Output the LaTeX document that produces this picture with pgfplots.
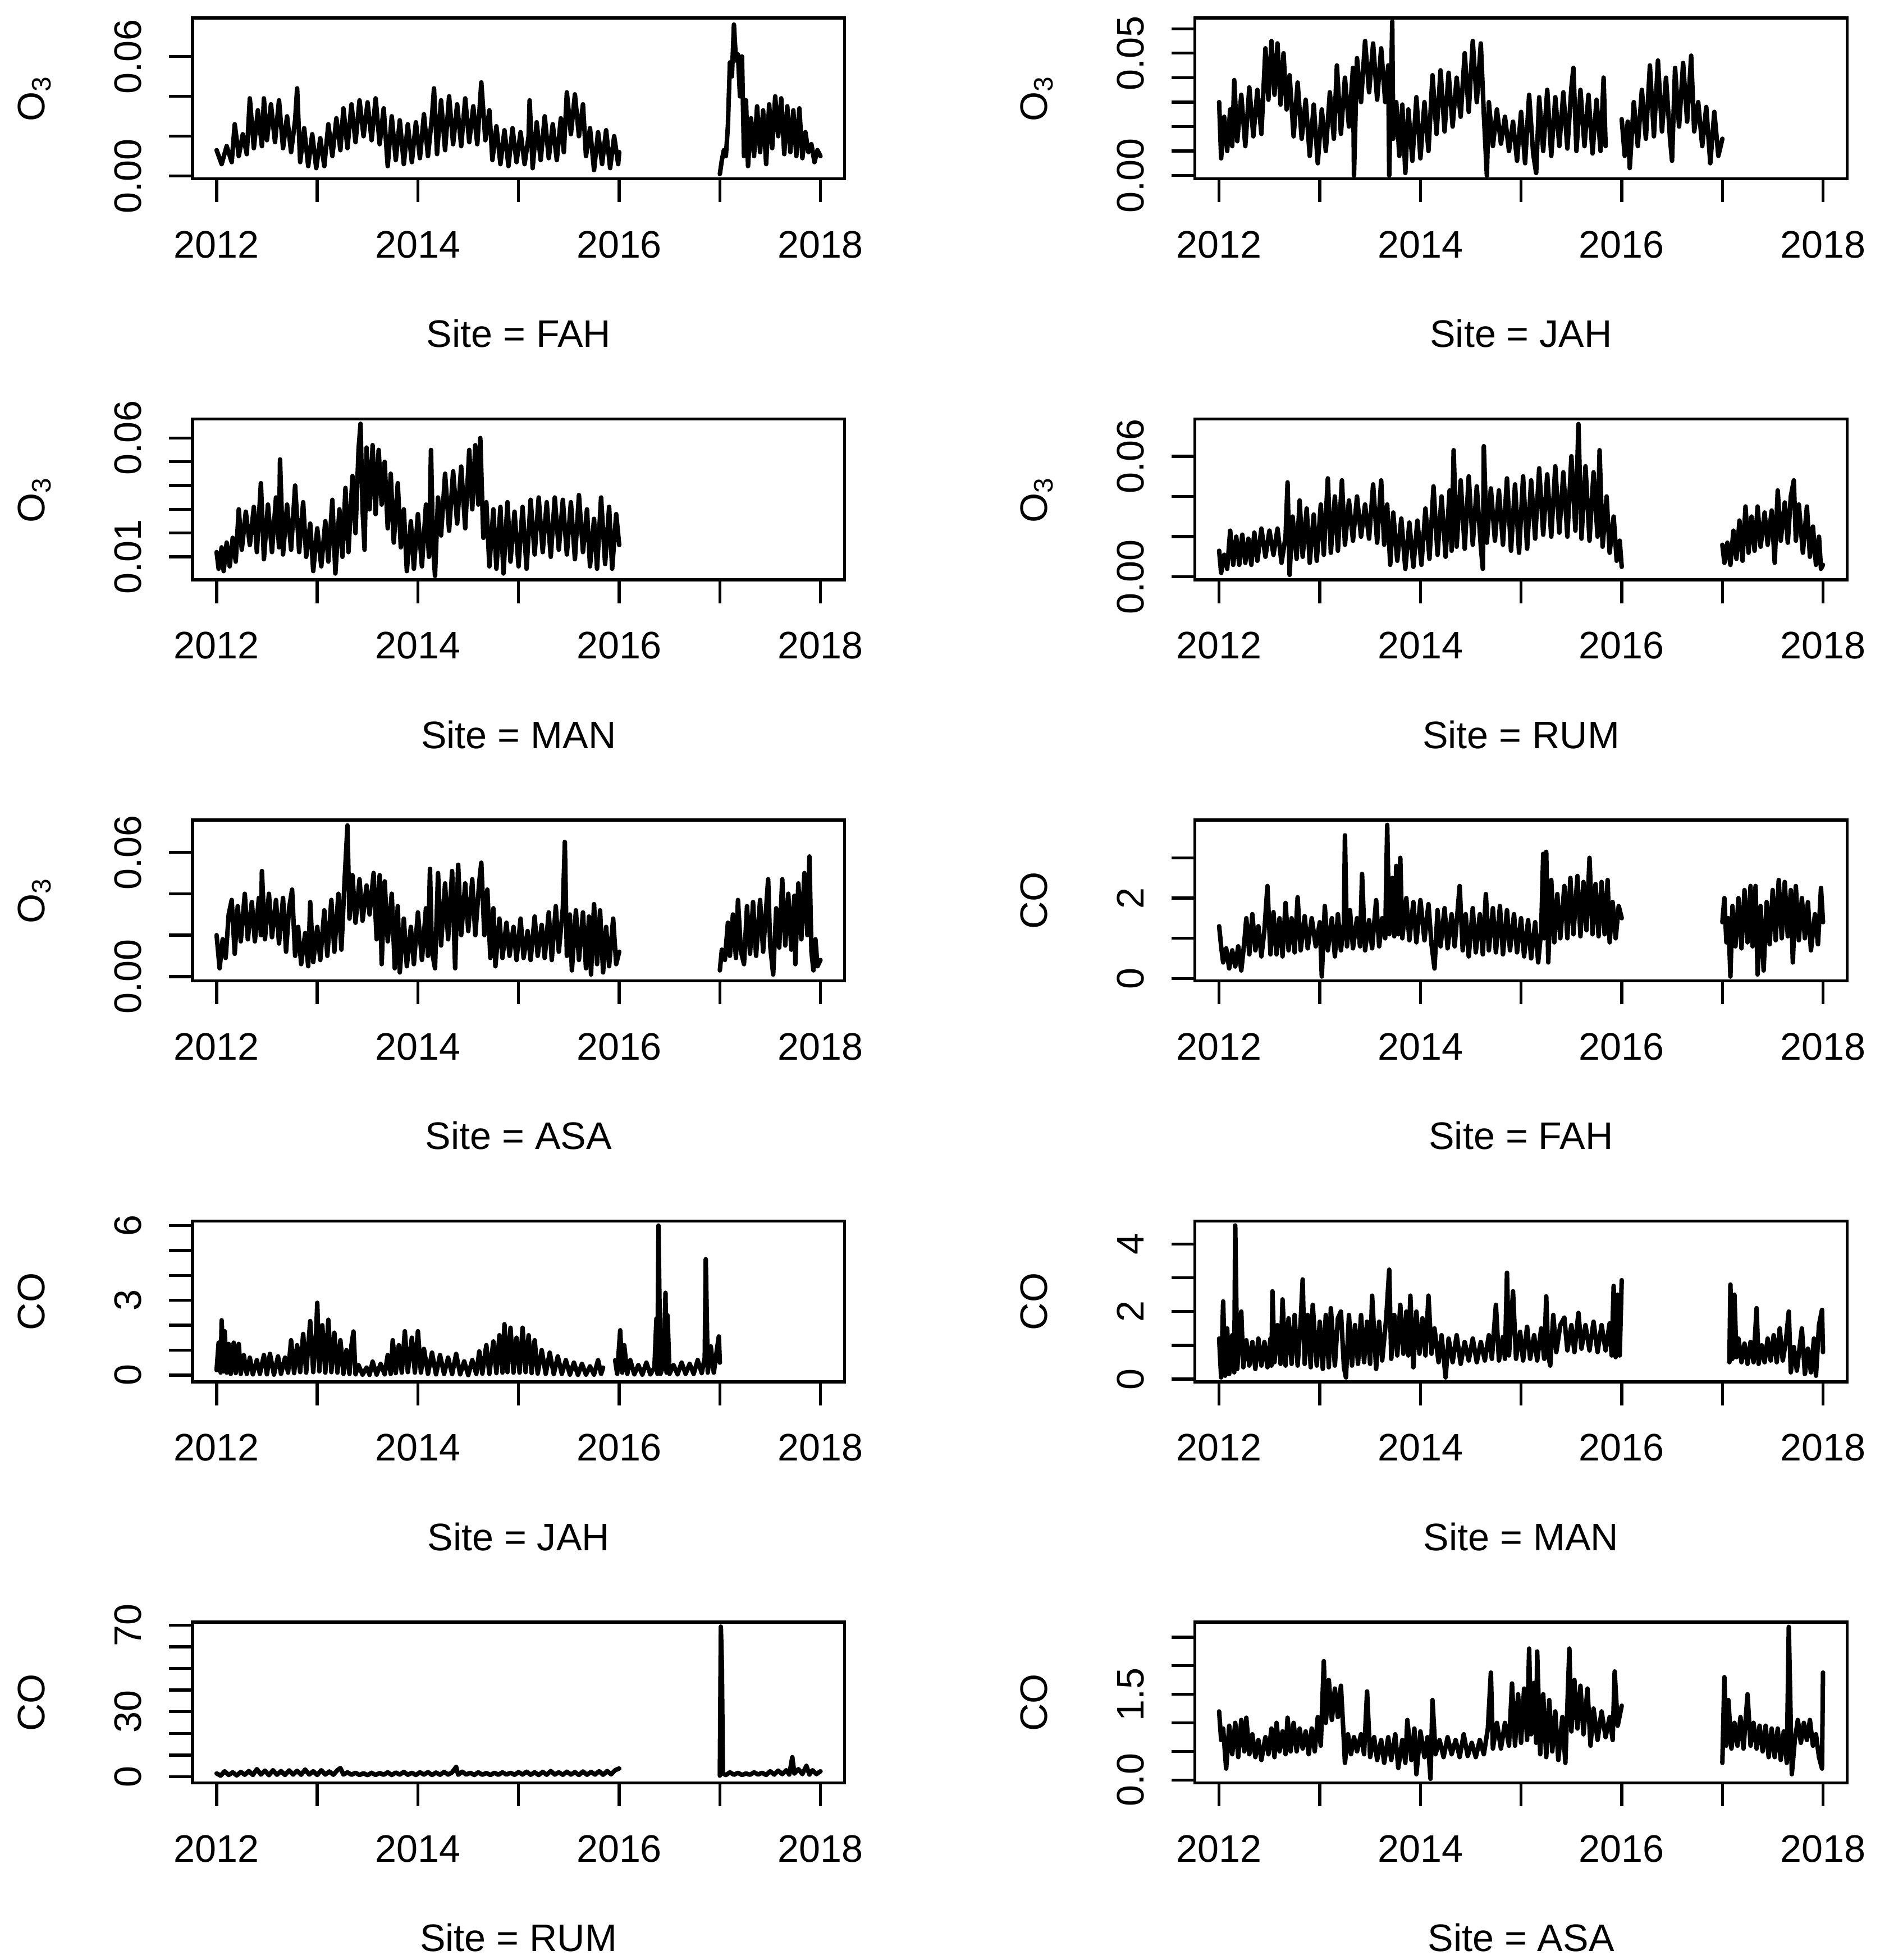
\documentclass[border=0pt]{standalone}
\usepackage{fontspec}
\setmainfont{Liberation Sans}
\usepackage{pgfplots}
\pgfplotsset{compat=1.18}

\pgfplotsset{
  rpanel/.style={
    scale only axis, width=173.5pt, height=42.8pt, anchor=south west,
    xmin=2011.76, xmax=2018.24,
    xtick={2012,2013,2014,2015,2016,2017,2018},
    xticklabels={2012,,2014,,2016,,2018},
    tick pos=left, tick align=outside, major tick length=6.2pt,
    tick style={black, line width=0.8pt},
    axis line style={black, line width=0.8pt},
    ticklabel style={font=\fontsize{10.2}{12}\selectfont},
    label style={font=\fontsize{10.2}{12}\selectfont},
    xticklabel style={anchor=base},
    yticklabel style={rotate=90, anchor=base},
    xticklabel shift=14.8pt, yticklabel shift=7.4pt,
    xlabel style={at={(axis description cs:0.5,-1.0467)}, anchor=base},
    ylabel style={at={(axis description cs:-0.2265,0.5)}, anchor=base},
    scaled y ticks=false,
    /pgf/number format/assume math mode=true,
    cycle list={{black, solid, mark=none}},
    every axis plot/.append style={line width=1.2pt, line join=round, line cap=round},
  },
}

\begin{document}
\begin{tikzpicture}
\useasboundingbox (0,0) rectangle (500pt,521.5pt);

% ---- row 1 left: O3, FAH
\begin{axis}[rpanel, at={(51.2pt,473.9pt)}, ymin=-0.0014, ymax=0.0793,
  ytick={0,0.02,0.04,0.06}, yticklabels={0.00,,,0.06},
  xlabel={Site = FAH}, ylabel={O\textsubscript{3}}]
\addplot table[row sep=\\] {
2012.00 0.013\\ 2012.05 0.006\\ 2012.10 0.015\\ 2012.15 0.007\\ 2012.18 0.026\\ 2012.22 0.010\\ 2012.26 0.021\\ 2012.30 0.011\\
2012.33 0.039\\ 2012.37 0.014\\ 2012.41 0.033\\ 2012.45 0.015\\ 2012.47 0.039\\ 2012.50 0.018\\ 2012.54 0.036\\ 2012.58 0.017\\
2012.62 0.038\\ 2012.66 0.014\\ 2012.70 0.030\\ 2012.74 0.012\\ 2012.78 0.028\\ 2012.80 0.044\\ 2012.83 0.007\\ 2012.87 0.024\\
2012.91 0.005\\ 2012.95 0.021\\ 2012.99 0.004\\ 2013.03 0.019\\ 2013.07 0.005\\ 2013.11 0.026\\ 2013.15 0.010\\ 2013.19 0.029\\
2013.23 0.013\\ 2013.26 0.034\\ 2013.30 0.014\\ 2013.34 0.036\\ 2013.38 0.017\\ 2013.42 0.038\\ 2013.46 0.020\\ 2013.50 0.037\\
2013.54 0.018\\ 2013.58 0.039\\ 2013.62 0.016\\ 2013.66 0.034\\ 2013.70 0.005\\ 2013.74 0.030\\ 2013.78 0.008\\ 2013.82 0.028\\
2013.86 0.006\\ 2013.90 0.026\\ 2013.94 0.007\\ 2013.98 0.027\\ 2014.02 0.009\\ 2014.06 0.031\\ 2014.10 0.010\\ 2014.14 0.030\\
2014.16 0.044\\ 2014.19 0.011\\ 2014.23 0.038\\ 2014.27 0.013\\ 2014.31 0.040\\ 2014.35 0.016\\ 2014.39 0.036\\ 2014.43 0.015\\
2014.47 0.039\\ 2014.51 0.017\\ 2014.55 0.035\\ 2014.59 0.016\\ 2014.63 0.047\\ 2014.67 0.018\\ 2014.71 0.033\\ 2014.74 0.008\\
2014.78 0.025\\ 2014.82 0.006\\ 2014.86 0.023\\ 2014.90 0.005\\ 2014.94 0.024\\ 2014.98 0.007\\ 2015.02 0.022\\ 2015.06 0.006\\
2015.10 0.020\\ 2015.11 0.038\\ 2015.14 0.004\\ 2015.18 0.027\\ 2015.22 0.008\\ 2015.26 0.030\\ 2015.30 0.009\\ 2015.34 0.026\\
2015.38 0.008\\ 2015.42 0.029\\ 2015.45 0.012\\ 2015.48 0.042\\ 2015.52 0.021\\ 2015.56 0.041\\ 2015.60 0.020\\ 2015.64 0.036\\
2015.67 0.010\\ 2015.71 0.024\\ 2015.75 0.003\\ 2015.79 0.022\\ 2015.83 0.006\\ 2015.87 0.023\\ 2015.91 0.004\\ 2015.95 0.020\\
2015.99 0.006\\ 2016.00 0.012\\
};
\addplot table[row sep=\\] {
2017.00 0.001\\ 2017.02 0.008\\ 2017.04 0.013\\ 2017.06 0.010\\ 2017.08 0.025\\ 2017.10 0.057\\ 2017.12 0.050\\ 2017.14 0.076\\
2017.16 0.058\\ 2017.18 0.061\\ 2017.20 0.040\\ 2017.22 0.060\\ 2017.24 0.010\\ 2017.26 0.038\\ 2017.28 0.005\\ 2017.31 0.029\\
2017.34 0.010\\ 2017.37 0.035\\ 2017.40 0.012\\ 2017.43 0.033\\ 2017.46 0.006\\ 2017.49 0.036\\ 2017.52 0.014\\ 2017.55 0.040\\
2017.58 0.020\\ 2017.61 0.039\\ 2017.64 0.011\\ 2017.67 0.035\\ 2017.70 0.012\\ 2017.73 0.033\\ 2017.76 0.010\\ 2017.79 0.034\\
2017.82 0.009\\ 2017.85 0.022\\ 2017.88 0.012\\ 2017.91 0.016\\ 2017.94 0.007\\ 2017.97 0.013\\ 2018.00 0.010\\
};
\end{axis}

% ---- row 1 right: O3, JAH
\begin{axis}[rpanel, at={(317.9pt,473.9pt)}, ymin=-0.0014, ymax=0.0644,
  ytick={0,0.01,0.02,0.03,0.04,0.05,0.06}, yticklabels={0.00,,,,,0.05,},
  xlabel={Site = JAH}, ylabel={O\textsubscript{3}}]
\addplot table[row sep=\\] {
2012.00 0.030\\ 2012.02 0.007\\ 2012.05 0.024\\ 2012.08 0.010\\ 2012.11 0.027\\ 2012.13 0.012\\ 2012.15 0.039\\ 2012.18 0.014\\
2012.22 0.033\\ 2012.26 0.012\\ 2012.30 0.036\\ 2012.34 0.016\\ 2012.38 0.035\\ 2012.42 0.017\\ 2012.46 0.052\\ 2012.49 0.031\\
2012.52 0.055\\ 2012.55 0.033\\ 2012.58 0.054\\ 2012.61 0.029\\ 2012.64 0.050\\ 2012.67 0.027\\ 2012.70 0.041\\ 2012.74 0.016\\
2012.78 0.038\\ 2012.82 0.015\\ 2012.86 0.031\\ 2012.90 0.008\\ 2012.94 0.029\\ 2012.98 0.005\\ 2013.02 0.027\\ 2013.06 0.010\\
2013.10 0.034\\ 2013.14 0.015\\ 2013.17 0.045\\ 2013.21 0.017\\ 2013.25 0.040\\ 2013.29 0.020\\ 2013.33 0.044\\ 2013.34 0.000\\
2013.37 0.048\\ 2013.41 0.030\\ 2013.45 0.055\\ 2013.49 0.034\\ 2013.53 0.054\\ 2013.57 0.031\\ 2013.61 0.052\\ 2013.65 0.030\\
2013.68 0.045\\ 2013.69 0.000\\ 2013.71 0.040\\ 2013.72 0.063\\ 2013.73 0.015\\ 2013.76 0.030\\ 2013.79 0.008\\ 2013.82 0.029\\
2013.85 0.001\\ 2013.88 0.027\\ 2013.92 0.006\\ 2013.96 0.032\\ 2014.00 0.007\\ 2014.04 0.030\\ 2014.08 0.010\\ 2014.12 0.041\\
2014.16 0.017\\ 2014.20 0.043\\ 2014.24 0.018\\ 2014.28 0.042\\ 2014.32 0.020\\ 2014.36 0.040\\ 2014.40 0.024\\ 2014.44 0.050\\
2014.48 0.026\\ 2014.52 0.055\\ 2014.56 0.030\\ 2014.60 0.054\\ 2014.63 0.025\\ 2014.66 0.000\\ 2014.68 0.030\\ 2014.72 0.012\\
2014.76 0.027\\ 2014.80 0.013\\ 2014.84 0.024\\ 2014.88 0.010\\ 2014.92 0.022\\ 2014.96 0.006\\ 2015.00 0.026\\ 2015.04 0.005\\
2015.08 0.033\\ 2015.12 0.009\\ 2015.15 0.001\\ 2015.18 0.032\\ 2015.22 0.010\\ 2015.26 0.035\\ 2015.30 0.008\\ 2015.34 0.032\\
2015.38 0.012\\ 2015.42 0.034\\ 2015.46 0.011\\ 2015.50 0.036\\ 2015.52 0.044\\ 2015.55 0.010\\ 2015.59 0.035\\ 2015.63 0.012\\
2015.67 0.033\\ 2015.71 0.009\\ 2015.75 0.031\\ 2015.79 0.010\\ 2015.82 0.040\\ 2015.84 0.012\\
};
\addplot table[row sep=\\] {
2016.00 0.023\\ 2016.03 0.008\\ 2016.06 0.022\\ 2016.08 0.003\\ 2016.12 0.030\\ 2016.16 0.012\\ 2016.20 0.035\\ 2016.24 0.015\\
2016.28 0.045\\ 2016.32 0.016\\ 2016.36 0.047\\ 2016.40 0.018\\ 2016.44 0.040\\ 2016.48 0.015\\ 2016.50 0.006\\ 2016.53 0.044\\
2016.57 0.020\\ 2016.61 0.046\\ 2016.65 0.022\\ 2016.69 0.049\\ 2016.72 0.018\\ 2016.76 0.030\\ 2016.80 0.012\\ 2016.84 0.028\\
2016.88 0.005\\ 2016.92 0.026\\ 2016.96 0.008\\ 2017.00 0.015\\
};
\end{axis}

% ---- row 2 left: O3, MAN
\begin{axis}[rpanel, at={(51.2pt,367.2pt)}, ymin=0.0003, ymax=0.068,
  ytick={0.01,0.02,0.03,0.04,0.05,0.06}, yticklabels={0.01,,,,,0.06},
  xlabel={Site = MAN}, ylabel={O\textsubscript{3}}]
\addplot table[row sep=\\] {
2012.00 0.012\\ 2012.02 0.005\\ 2012.05 0.014\\ 2012.07 0.004\\ 2012.10 0.016\\ 2012.13 0.006\\ 2012.16 0.018\\ 2012.19 0.008\\
2012.22 0.030\\ 2012.25 0.013\\ 2012.29 0.029\\ 2012.33 0.015\\ 2012.37 0.031\\ 2012.40 0.012\\ 2012.44 0.041\\ 2012.47 0.009\\
2012.51 0.032\\ 2012.55 0.012\\ 2012.59 0.035\\ 2012.62 0.014\\ 2012.63 0.051\\ 2012.66 0.011\\ 2012.70 0.032\\ 2012.74 0.013\\
2012.78 0.040\\ 2012.82 0.012\\ 2012.86 0.033\\ 2012.89 0.010\\ 2012.93 0.024\\ 2012.96 0.004\\ 2013.00 0.022\\ 2013.04 0.006\\
2013.08 0.025\\ 2013.11 0.008\\ 2013.15 0.034\\ 2013.18 0.003\\ 2013.22 0.030\\ 2013.25 0.010\\ 2013.28 0.039\\ 2013.31 0.012\\
2013.35 0.044\\ 2013.38 0.020\\ 2013.41 0.055\\ 2013.43 0.066\\ 2013.45 0.030\\ 2013.47 0.013\\ 2013.49 0.056\\ 2013.52 0.030\\
2013.55 0.057\\ 2013.58 0.028\\ 2013.61 0.055\\ 2013.64 0.032\\ 2013.67 0.050\\ 2013.70 0.022\\ 2013.73 0.045\\ 2013.76 0.016\\
2013.80 0.041\\ 2013.83 0.014\\ 2013.86 0.030\\ 2013.89 0.004\\ 2013.93 0.025\\ 2013.96 0.005\\ 2014.00 0.028\\ 2014.04 0.006\\
2014.08 0.032\\ 2014.11 0.010\\ 2014.13 0.055\\ 2014.15 0.015\\ 2014.17 0.002\\ 2014.20 0.035\\ 2014.23 0.019\\ 2014.27 0.045\\
2014.31 0.021\\ 2014.35 0.046\\ 2014.39 0.024\\ 2014.43 0.048\\ 2014.47 0.022\\ 2014.51 0.055\\ 2014.54 0.030\\ 2014.57 0.057\\
2014.60 0.032\\ 2014.62 0.060\\ 2014.65 0.018\\ 2014.68 0.033\\ 2014.71 0.006\\ 2014.75 0.030\\ 2014.78 0.005\\ 2014.82 0.031\\
2014.85 0.003\\ 2014.89 0.033\\ 2014.92 0.008\\ 2014.96 0.029\\ 2015.00 0.006\\ 2015.04 0.031\\ 2015.08 0.005\\ 2015.12 0.034\\
2015.16 0.011\\ 2015.20 0.035\\ 2015.24 0.012\\ 2015.28 0.033\\ 2015.32 0.010\\ 2015.36 0.035\\ 2015.40 0.013\\ 2015.44 0.034\\
2015.48 0.011\\ 2015.52 0.033\\ 2015.56 0.009\\ 2015.60 0.036\\ 2015.64 0.012\\ 2015.68 0.030\\ 2015.71 0.006\\ 2015.75 0.026\\
2015.78 0.005\\ 2015.82 0.035\\ 2015.86 0.007\\ 2015.90 0.031\\ 2015.93 0.005\\ 2015.97 0.028\\ 2016.00 0.015\\
};
\end{axis}

% ---- row 2 right: O3, RUM
\begin{axis}[rpanel, at={(317.9pt,367.2pt)}, ymin=-0.0015, ymax=0.0785,
  ytick={0,0.02,0.04,0.06}, yticklabels={0.00,,,0.06},
  xlabel={Site = RUM}, ylabel={O\textsubscript{3}}]
\addplot table[row sep=\\] {
2012.00 0.013\\ 2012.02 0.002\\ 2012.05 0.011\\ 2012.08 0.004\\ 2012.11 0.023\\ 2012.14 0.006\\ 2012.17 0.020\\ 2012.20 0.006\\
2012.23 0.021\\ 2012.26 0.007\\ 2012.29 0.019\\ 2012.32 0.006\\ 2012.35 0.022\\ 2012.38 0.008\\ 2012.42 0.024\\ 2012.46 0.010\\
2012.50 0.023\\ 2012.54 0.011\\ 2012.58 0.024\\ 2012.62 0.007\\ 2012.66 0.020\\ 2012.68 0.047\\ 2012.70 0.001\\ 2012.73 0.030\\
2012.77 0.009\\ 2012.80 0.038\\ 2012.83 0.010\\ 2012.87 0.034\\ 2012.90 0.007\\ 2012.94 0.031\\ 2012.97 0.008\\ 2013.01 0.036\\
2013.04 0.011\\ 2013.08 0.049\\ 2013.11 0.012\\ 2013.15 0.040\\ 2013.18 0.013\\ 2013.22 0.048\\ 2013.25 0.016\\ 2013.29 0.038\\
2013.33 0.018\\ 2013.37 0.040\\ 2013.41 0.020\\ 2013.45 0.036\\ 2013.49 0.019\\ 2013.53 0.046\\ 2013.57 0.017\\ 2013.61 0.048\\
2013.64 0.016\\ 2013.67 0.036\\ 2013.70 0.006\\ 2013.73 0.032\\ 2013.77 0.008\\ 2013.81 0.029\\ 2013.85 0.004\\ 2013.89 0.027\\
2013.93 0.005\\ 2013.97 0.028\\ 2014.01 0.006\\ 2014.05 0.034\\ 2014.09 0.009\\ 2014.13 0.045\\ 2014.17 0.011\\ 2014.21 0.040\\
2014.25 0.010\\ 2014.29 0.043\\ 2014.31 0.013\\ 2014.33 0.063\\ 2014.36 0.015\\ 2014.40 0.048\\ 2014.44 0.014\\ 2014.48 0.050\\
2014.52 0.016\\ 2014.56 0.045\\ 2014.60 0.015\\ 2014.62 0.004\\ 2014.63 0.065\\ 2014.66 0.017\\ 2014.70 0.044\\ 2014.74 0.018\\
2014.78 0.043\\ 2014.82 0.016\\ 2014.86 0.049\\ 2014.90 0.013\\ 2014.94 0.046\\ 2014.98 0.012\\ 2015.02 0.050\\ 2015.06 0.014\\
2015.10 0.048\\ 2015.14 0.019\\ 2015.18 0.054\\ 2015.22 0.021\\ 2015.26 0.051\\ 2015.30 0.020\\ 2015.34 0.055\\ 2015.38 0.022\\
2015.42 0.052\\ 2015.46 0.020\\ 2015.50 0.060\\ 2015.54 0.023\\ 2015.57 0.076\\ 2015.60 0.019\\ 2015.64 0.055\\ 2015.68 0.018\\
2015.72 0.052\\ 2015.76 0.020\\ 2015.78 0.063\\ 2015.81 0.015\\ 2015.85 0.040\\ 2015.88 0.012\\ 2015.92 0.030\\ 2015.95 0.008\\
2015.98 0.018\\ 2016.00 0.005\\
};
\addplot table[row sep=\\] {
2017.00 0.016\\ 2017.02 0.007\\ 2017.05 0.017\\ 2017.08 0.006\\ 2017.11 0.023\\ 2017.14 0.009\\ 2017.17 0.028\\ 2017.20 0.008\\
2017.23 0.035\\ 2017.26 0.012\\ 2017.29 0.030\\ 2017.32 0.013\\ 2017.35 0.035\\ 2017.38 0.015\\ 2017.42 0.032\\ 2017.45 0.016\\
2017.49 0.033\\ 2017.52 0.007\\ 2017.55 0.043\\ 2017.58 0.018\\ 2017.62 0.037\\ 2017.65 0.017\\ 2017.68 0.040\\ 2017.71 0.048\\
2017.73 0.018\\ 2017.76 0.036\\ 2017.80 0.012\\ 2017.84 0.035\\ 2017.87 0.010\\ 2017.90 0.025\\ 2017.93 0.006\\ 2017.96 0.020\\
2017.98 0.004\\ 2018.00 0.006\\
};
\end{axis}

% ---- row 3 left: O3, ASA
\begin{axis}[rpanel, at={(51.2pt,260.5pt)}, ymin=-0.0021, ymax=0.0756,
  ytick={0,0.02,0.04,0.06}, yticklabels={0.00,,,0.06},
  xlabel={Site = ASA}, ylabel={O\textsubscript{3}}]
\addplot table[row sep=\\] {
2012.00 0.020\\ 2012.03 0.004\\ 2012.06 0.018\\ 2012.09 0.009\\ 2012.12 0.030\\ 2012.15 0.037\\ 2012.18 0.011\\ 2012.21 0.034\\
2012.24 0.017\\ 2012.28 0.040\\ 2012.31 0.018\\ 2012.35 0.036\\ 2012.38 0.017\\ 2012.42 0.038\\ 2012.44 0.020\\ 2012.45 0.051\\
2012.48 0.018\\ 2012.52 0.040\\ 2012.55 0.019\\ 2012.59 0.037\\ 2012.62 0.016\\ 2012.66 0.038\\ 2012.69 0.012\\ 2012.72 0.033\\
2012.75 0.042\\ 2012.78 0.010\\ 2012.81 0.024\\ 2012.84 0.006\\ 2012.88 0.021\\ 2012.91 0.005\\ 2012.93 0.036\\ 2012.96 0.007\\
2013.00 0.024\\ 2013.03 0.008\\ 2013.07 0.032\\ 2013.10 0.010\\ 2013.14 0.037\\ 2013.17 0.012\\ 2013.21 0.040\\ 2013.24 0.013\\
2013.27 0.045\\ 2013.30 0.073\\ 2013.32 0.028\\ 2013.35 0.049\\ 2013.38 0.026\\ 2013.42 0.047\\ 2013.45 0.027\\ 2013.49 0.044\\
2013.52 0.030\\ 2013.56 0.050\\ 2013.59 0.018\\ 2013.62 0.049\\ 2013.64 0.006\\ 2013.67 0.046\\ 2013.70 0.017\\ 2013.74 0.040\\
2013.77 0.004\\ 2013.80 0.034\\ 2013.82 0.002\\ 2013.86 0.028\\ 2013.89 0.005\\ 2013.93 0.024\\ 2013.96 0.006\\ 2014.00 0.031\\
2014.04 0.008\\ 2014.08 0.033\\ 2014.10 0.010\\ 2014.12 0.052\\ 2014.14 0.012\\ 2014.17 0.004\\ 2014.20 0.050\\ 2014.23 0.015\\
2014.27 0.045\\ 2014.30 0.018\\ 2014.34 0.051\\ 2014.37 0.004\\ 2014.40 0.054\\ 2014.43 0.020\\ 2014.47 0.045\\ 2014.50 0.022\\
2014.54 0.047\\ 2014.57 0.020\\ 2014.61 0.046\\ 2014.63 0.055\\ 2014.66 0.020\\ 2014.69 0.042\\ 2014.72 0.009\\ 2014.75 0.033\\
2014.77 0.005\\ 2014.81 0.028\\ 2014.84 0.009\\ 2014.88 0.026\\ 2014.91 0.010\\ 2014.95 0.024\\ 2014.98 0.008\\ 2015.02 0.028\\
2015.05 0.009\\ 2015.09 0.022\\ 2015.12 0.008\\ 2015.16 0.029\\ 2015.19 0.010\\ 2015.23 0.025\\ 2015.26 0.009\\ 2015.30 0.031\\
2015.33 0.008\\ 2015.37 0.034\\ 2015.40 0.012\\ 2015.44 0.033\\ 2015.46 0.065\\ 2015.48 0.010\\ 2015.51 0.030\\ 2015.53 0.003\\
2015.57 0.032\\ 2015.60 0.008\\ 2015.64 0.031\\ 2015.67 0.004\\ 2015.70 0.029\\ 2015.72 0.001\\ 2015.75 0.035\\ 2015.78 0.006\\
2015.81 0.032\\ 2015.84 0.002\\ 2015.87 0.024\\ 2015.90 0.005\\ 2015.94 0.028\\ 2015.97 0.006\\ 2016.00 0.012\\
};
\addplot table[row sep=\\] {
2017.00 0.003\\ 2017.02 0.013\\ 2017.05 0.008\\ 2017.08 0.026\\ 2017.10 0.010\\ 2017.13 0.030\\ 2017.16 0.009\\ 2017.18 0.037\\
2017.21 0.012\\ 2017.24 0.006\\ 2017.27 0.034\\ 2017.30 0.011\\ 2017.33 0.036\\ 2017.36 0.010\\ 2017.40 0.037\\ 2017.43 0.012\\
2017.46 0.033\\ 2017.48 0.047\\ 2017.50 0.015\\ 2017.53 0.001\\ 2017.56 0.033\\ 2017.59 0.014\\ 2017.62 0.047\\ 2017.65 0.015\\
2017.68 0.040\\ 2017.71 0.013\\ 2017.74 0.039\\ 2017.75 0.006\\ 2017.78 0.045\\ 2017.81 0.018\\ 2017.84 0.050\\ 2017.87 0.020\\
2017.89 0.058\\ 2017.91 0.012\\ 2017.93 0.003\\ 2017.95 0.018\\ 2017.97 0.005\\ 2018.00 0.008\\
};
\end{axis}

% ---- row 3 right: CO, FAH
\begin{axis}[rpanel, at={(317.9pt,260.5pt)}, ymin=-0.06, ymax=3.94,
  ytick={0,1,2,3}, yticklabels={0,,2,},
  xlabel={Site = FAH}, ylabel={CO}]
\addplot table[row sep=\\] {
2012.00 1.30\\ 2012.02 0.80\\ 2012.04 0.40\\ 2012.07 0.75\\ 2012.10 0.25\\ 2012.13 0.70\\ 2012.16 0.30\\ 2012.19 0.80\\
2012.22 0.20\\ 2012.25 0.90\\ 2012.27 1.50\\ 2012.30 0.60\\ 2012.33 1.60\\ 2012.36 0.70\\ 2012.39 1.30\\ 2012.42 0.55\\
2012.45 1.20\\ 2012.48 2.30\\ 2012.51 0.60\\ 2012.54 1.65\\ 2012.57 0.60\\ 2012.60 1.50\\ 2012.63 0.55\\ 2012.66 1.88\\
2012.69 0.70\\ 2012.72 1.50\\ 2012.75 0.65\\ 2012.78 2.02\\ 2012.81 0.70\\ 2012.85 1.55\\ 2012.88 0.75\\ 2012.92 1.50\\
2012.96 0.80\\ 2013.00 1.40\\ 2013.02 0.05\\ 2013.05 1.80\\ 2013.08 0.70\\ 2013.12 1.50\\ 2013.15 0.55\\ 2013.18 1.60\\
2013.21 0.70\\ 2013.24 1.40\\ 2013.25 3.56\\ 2013.27 0.80\\ 2013.30 1.70\\ 2013.33 0.75\\ 2013.37 1.50\\ 2013.40 0.80\\
2013.42 2.60\\ 2013.45 0.70\\ 2013.49 1.45\\ 2013.52 0.75\\ 2013.56 1.95\\ 2013.59 0.80\\ 2013.62 1.50\\ 2013.65 1.00\\
2013.67 3.82\\ 2013.69 1.10\\ 2013.72 2.50\\ 2013.74 1.05\\ 2013.76 2.80\\ 2013.78 1.10\\ 2013.80 3.00\\ 2013.82 1.00\\
2013.86 2.00\\ 2013.89 0.95\\ 2013.93 1.90\\ 2013.96 0.90\\ 2014.00 1.95\\ 2014.04 0.95\\ 2014.08 1.85\\ 2014.11 0.85\\
2014.14 0.25\\ 2014.17 1.70\\ 2014.20 0.80\\ 2014.24 1.75\\ 2014.27 0.75\\ 2014.31 1.60\\ 2014.34 0.80\\ 2014.37 1.70\\
2014.39 2.30\\ 2014.42 0.70\\ 2014.45 1.60\\ 2014.48 0.55\\ 2014.52 1.75\\ 2014.55 0.65\\ 2014.59 1.60\\ 2014.62 0.60\\
2014.65 2.10\\ 2014.68 0.70\\ 2014.72 1.75\\ 2014.75 0.65\\ 2014.79 1.80\\ 2014.82 0.60\\ 2014.86 1.70\\ 2014.89 0.70\\
2014.93 1.60\\ 2014.96 0.65\\ 2015.00 1.50\\ 2015.03 0.55\\ 2015.07 1.45\\ 2015.10 0.50\\ 2015.14 1.40\\ 2015.17 0.40\\
2015.20 1.20\\ 2015.22 3.10\\ 2015.23 1.00\\ 2015.25 3.15\\ 2015.27 0.40\\ 2015.30 2.45\\ 2015.33 0.90\\ 2015.36 2.10\\
2015.39 1.00\\ 2015.43 2.30\\ 2015.46 1.00\\ 2015.49 2.50\\ 2015.52 1.10\\ 2015.56 2.55\\ 2015.59 1.05\\ 2015.62 2.40\\
2015.65 1.20\\ 2015.68 3.00\\ 2015.71 1.10\\ 2015.74 2.35\\ 2015.77 1.05\\ 2015.80 2.40\\ 2015.83 1.10\\ 2015.86 2.45\\
2015.88 0.90\\ 2015.91 1.90\\ 2015.94 1.00\\ 2015.97 1.80\\ 2016.00 1.50\\
};
\addplot table[row sep=\\] {
2017.00 1.40\\ 2017.02 2.00\\ 2017.04 0.90\\ 2017.06 1.50\\ 2017.08 0.05\\ 2017.10 1.80\\ 2017.13 0.80\\ 2017.16 2.00\\
2017.19 0.75\\ 2017.22 2.20\\ 2017.25 0.90\\ 2017.28 2.30\\ 2017.30 0.80\\ 2017.33 2.30\\ 2017.35 0.10\\ 2017.38 1.80\\
2017.41 0.20\\ 2017.44 1.90\\ 2017.47 0.85\\ 2017.50 2.20\\ 2017.53 0.95\\ 2017.56 2.45\\ 2017.59 1.00\\ 2017.62 2.40\\
2017.65 1.05\\ 2017.68 2.20\\ 2017.70 0.40\\ 2017.73 2.30\\ 2017.76 0.95\\ 2017.79 2.00\\ 2017.82 1.00\\ 2017.85 1.90\\
2017.88 0.70\\ 2017.92 1.60\\ 2017.95 0.85\\ 2017.98 2.25\\ 2018.00 1.40\\
};
\end{axis}

% ---- row 4 left: CO, JAH
\begin{axis}[rpanel, at={(51.2pt,153.8pt)}, ymin=-0.275, ymax=6.18,
  ytick={0,1,2,3,4,5,6}, yticklabels={0,,,3,,,6},
  xlabel={Site = JAH}, ylabel={CO}]
\addplot table[row sep=\\] {
2012.00 0.20\\ 2012.02 1.30\\ 2012.04 0.10\\ 2012.05 2.20\\ 2012.07 0.15\\ 2012.08 1.76\\ 2012.10 0.10\\ 2012.12 1.25\\
2012.14 0.05\\ 2012.17 1.30\\ 2012.19 0.08\\ 2012.22 1.25\\ 2012.24 0.05\\ 2012.27 0.80\\ 2012.30 0.05\\ 2012.33 0.70\\
2012.36 0.03\\ 2012.40 0.60\\ 2012.43 0.05\\ 2012.47 0.80\\ 2012.50 0.03\\ 2012.53 0.85\\ 2012.57 0.02\\ 2012.61 0.75\\
2012.64 0.05\\ 2012.68 0.70\\ 2012.71 0.10\\ 2012.74 1.40\\ 2012.77 0.08\\ 2012.80 1.20\\ 2012.83 0.12\\ 2012.86 1.65\\
2012.89 0.10\\ 2012.93 2.17\\ 2012.96 0.12\\ 2012.99 1.80\\ 2013.00 2.90\\ 2013.02 0.15\\ 2013.05 2.00\\ 2013.08 0.10\\
2013.11 2.22\\ 2013.14 0.12\\ 2013.17 1.70\\ 2013.20 0.10\\ 2013.23 1.40\\ 2013.26 0.05\\ 2013.29 1.00\\ 2013.32 0.05\\
2013.34 1.20\\ 2013.36 1.75\\ 2013.38 0.03\\ 2013.41 0.40\\ 2013.45 0.02\\ 2013.49 0.30\\ 2013.52 0.01\\ 2013.55 0.54\\
2013.59 0.02\\ 2013.63 0.45\\ 2013.67 0.03\\ 2013.70 0.80\\ 2013.73 0.05\\ 2013.75 1.40\\ 2013.78 0.08\\ 2013.81 1.20\\
2013.84 0.10\\ 2013.87 1.76\\ 2013.90 0.12\\ 2013.94 1.50\\ 2013.97 0.10\\ 2014.00 1.76\\ 2014.03 0.10\\ 2014.06 1.05\\
2014.10 0.05\\ 2014.14 0.90\\ 2014.18 0.03\\ 2014.22 0.80\\ 2014.26 0.05\\ 2014.30 0.70\\ 2014.34 0.04\\ 2014.38 0.85\\
2014.42 0.03\\ 2014.46 0.55\\ 2014.50 0.00\\ 2014.54 0.60\\ 2014.58 0.05\\ 2014.61 0.95\\ 2014.64 0.06\\ 2014.68 1.20\\
2014.71 0.05\\ 2014.75 1.35\\ 2014.78 0.08\\ 2014.81 1.60\\ 2014.84 0.10\\ 2014.86 2.04\\ 2014.89 0.12\\ 2014.92 1.90\\
2014.95 0.10\\ 2014.98 1.50\\ 2015.01 0.10\\ 2015.04 1.90\\ 2015.07 0.12\\ 2015.10 1.60\\ 2015.13 0.08\\ 2015.16 1.40\\
2015.19 0.06\\ 2015.23 1.00\\ 2015.27 0.05\\ 2015.31 0.90\\ 2015.35 0.04\\ 2015.39 0.75\\ 2015.43 0.05\\ 2015.47 0.60\\
2015.51 0.02\\ 2015.55 0.50\\ 2015.59 0.01\\ 2015.63 0.45\\ 2015.67 0.02\\ 2015.71 0.35\\ 2015.75 0.02\\ 2015.79 0.60\\
2015.82 0.05\\ 2015.84 0.30\\
};
\addplot table[row sep=\\] {
2015.96 0.60\\ 2015.98 0.05\\ 2016.01 1.80\\ 2016.03 0.10\\ 2016.05 1.20\\ 2016.08 0.05\\ 2016.11 0.60\\ 2016.15 0.03\\
2016.19 0.40\\ 2016.23 0.02\\ 2016.27 0.50\\ 2016.31 0.03\\ 2016.35 0.30\\ 2016.37 2.27\\ 2016.38 0.05\\ 2016.39 6.00\\
2016.41 0.05\\ 2016.44 0.40\\ 2016.46 3.30\\ 2016.47 0.10\\ 2016.48 2.40\\ 2016.50 0.05\\ 2016.54 0.40\\ 2016.58 0.03\\
2016.62 0.50\\ 2016.66 0.05\\ 2016.70 0.45\\ 2016.74 0.05\\ 2016.78 0.60\\ 2016.82 0.08\\ 2016.85 0.70\\ 2016.86 4.65\\
2016.88 0.10\\ 2016.91 1.15\\ 2016.94 0.10\\ 2016.97 1.00\\ 2016.99 1.55\\ 2017.00 0.50\\
};
\end{axis}

% ---- row 4 right: CO, MAN
\begin{axis}[rpanel, at={(317.9pt,153.8pt)}, ymin=-0.085, ymax=4.68,
  ytick={0,1,2,3,4}, yticklabels={0,,2,,4},
  xlabel={Site = MAN}, ylabel={CO}]
\addplot table[row sep=\\] {
2012.00 1.20\\ 2012.02 0.05\\ 2012.04 2.30\\ 2012.06 0.10\\ 2012.08 1.50\\ 2012.10 0.15\\ 2012.13 1.30\\ 2012.15 0.20\\
2012.16 4.55\\ 2012.18 0.30\\ 2012.22 2.00\\ 2012.24 0.35\\ 2012.27 1.15\\ 2012.30 0.40\\ 2012.33 1.10\\ 2012.36 0.30\\
2012.39 1.20\\ 2012.42 0.40\\ 2012.45 1.10\\ 2012.48 0.35\\ 2012.51 1.20\\ 2012.52 0.40\\ 2012.53 2.60\\ 2012.55 0.50\\
2012.58 1.60\\ 2012.61 0.45\\ 2012.63 2.36\\ 2012.66 0.40\\ 2012.69 1.80\\ 2012.72 0.45\\ 2012.75 1.90\\ 2012.78 0.40\\
2012.81 1.70\\ 2012.83 2.95\\ 2012.85 0.45\\ 2012.88 1.90\\ 2012.91 0.35\\ 2012.93 2.20\\ 2012.97 0.40\\ 2013.00 1.70\\
2013.03 0.30\\ 2013.06 1.90\\ 2013.09 0.35\\ 2013.11 2.10\\ 2013.15 0.40\\ 2013.18 1.80\\ 2013.21 2.00\\ 2013.24 0.35\\
2013.26 0.05\\ 2013.29 1.90\\ 2013.32 0.40\\ 2013.35 1.60\\ 2013.38 0.45\\ 2013.41 1.90\\ 2013.44 0.50\\ 2013.47 1.70\\
2013.50 0.45\\ 2013.52 2.47\\ 2013.56 0.30\\ 2013.59 1.70\\ 2013.62 0.55\\ 2013.66 1.80\\ 2013.69 3.24\\ 2013.71 0.60\\
2013.74 1.90\\ 2013.77 0.70\\ 2013.80 2.20\\ 2013.83 0.75\\ 2013.86 2.00\\ 2013.88 0.70\\ 2013.90 2.47\\ 2013.93 0.35\\
2013.96 2.00\\ 2013.99 0.75\\ 2014.02 1.80\\ 2014.05 0.70\\ 2014.08 2.47\\ 2014.11 0.75\\ 2014.14 1.50\\ 2014.18 0.50\\
2014.21 1.30\\ 2014.25 0.05\\ 2014.28 1.20\\ 2014.32 0.50\\ 2014.36 1.30\\ 2014.40 0.45\\ 2014.44 1.10\\ 2014.48 0.55\\
2014.52 1.20\\ 2014.56 0.50\\ 2014.60 1.10\\ 2014.64 0.55\\ 2014.68 1.30\\ 2014.71 0.60\\ 2014.75 2.20\\ 2014.78 0.55\\
2014.82 1.25\\ 2014.84 0.60\\ 2014.86 3.15\\ 2014.88 0.70\\ 2014.92 2.60\\ 2014.95 0.60\\ 2014.99 1.40\\ 2015.02 0.55\\
2015.06 1.55\\ 2015.09 0.60\\ 2015.13 1.30\\ 2015.16 0.55\\ 2015.20 1.50\\ 2015.23 0.60\\ 2015.25 2.45\\ 2015.27 0.70\\
2015.29 0.40\\ 2015.32 1.90\\ 2015.35 0.80\\ 2015.39 1.60\\ 2015.43 1.82\\ 2015.46 0.85\\ 2015.50 1.60\\ 2015.53 0.80\\
2015.57 1.96\\ 2015.60 0.90\\ 2015.64 1.60\\ 2015.68 0.85\\ 2015.72 1.70\\ 2015.76 0.80\\ 2015.80 1.60\\ 2015.84 0.85\\
2015.88 1.65\\ 2015.90 0.70\\ 2015.92 2.76\\ 2015.94 0.65\\ 2015.96 2.50\\ 2015.98 0.70\\ 2016.00 2.93\\
};
\addplot table[row sep=\\] {
2017.07 0.50\\ 2017.08 2.80\\ 2017.10 0.60\\ 2017.12 2.50\\ 2017.14 0.65\\ 2017.16 1.20\\ 2017.19 0.50\\ 2017.22 1.05\\
2017.25 0.45\\ 2017.28 1.10\\ 2017.31 0.50\\ 2017.34 2.10\\ 2017.36 0.45\\ 2017.39 1.00\\ 2017.42 0.50\\ 2017.45 1.20\\
2017.48 0.55\\ 2017.51 1.30\\ 2017.54 0.50\\ 2017.57 1.50\\ 2017.60 0.55\\ 2017.63 1.10\\ 2017.66 2.00\\ 2017.68 0.20\\
2017.71 0.95\\ 2017.74 0.25\\ 2017.77 1.00\\ 2017.79 1.50\\ 2017.82 0.15\\ 2017.85 0.90\\ 2017.88 0.20\\ 2017.91 1.20\\
2017.93 0.10\\ 2017.96 1.60\\ 2017.99 2.05\\ 2018.00 0.80\\
};
\end{axis}

% ---- row 5 left: CO, RUM
\begin{axis}[rpanel, at={(51.2pt,47.1pt)}, ymin=-2.9, ymax=71.4,
  ytick={0,10,20,30,40,50,60,70}, yticklabels={0,,,30,,,,70},
  xlabel={Site = RUM}, ylabel={CO}]
\addplot table[row sep=\\] {
2012.00 1.5\\ 2012.04 0.5\\ 2012.08 2.5\\ 2012.12 0.8\\ 2012.16 2.0\\ 2012.20 0.6\\ 2012.24 2.2\\ 2012.28 0.9\\
2012.32 2.6\\ 2012.36 0.8\\ 2012.40 3.5\\ 2012.44 1.0\\ 2012.48 2.8\\ 2012.52 0.7\\ 2012.56 3.0\\ 2012.60 0.9\\
2012.64 2.6\\ 2012.68 0.8\\ 2012.72 2.9\\ 2012.76 1.0\\ 2012.80 2.7\\ 2012.84 0.9\\ 2012.88 3.3\\ 2012.92 1.0\\
2012.96 2.5\\ 2013.00 0.8\\ 2013.04 3.0\\ 2013.08 1.0\\ 2013.12 2.4\\ 2013.16 0.9\\ 2013.20 3.0\\ 2013.23 4.0\\
2013.26 1.0\\ 2013.30 2.0\\ 2013.34 0.9\\ 2013.38 1.8\\ 2013.42 0.8\\ 2013.46 1.6\\ 2013.50 0.7\\ 2013.54 1.8\\
2013.58 0.8\\ 2013.62 1.7\\ 2013.66 0.9\\ 2013.70 2.0\\ 2013.74 0.8\\ 2013.78 1.9\\ 2013.82 1.0\\ 2013.86 2.2\\
2013.90 0.9\\ 2013.94 1.8\\ 2013.98 0.8\\ 2014.02 2.0\\ 2014.06 1.0\\ 2014.10 2.1\\ 2014.14 0.8\\ 2014.18 1.9\\
2014.22 0.9\\ 2014.26 2.2\\ 2014.30 1.0\\ 2014.34 2.0\\ 2014.38 4.5\\ 2014.40 0.9\\ 2014.44 2.3\\ 2014.48 1.0\\
2014.52 1.8\\ 2014.56 0.8\\ 2014.60 2.0\\ 2014.64 0.9\\ 2014.68 1.7\\ 2014.72 0.8\\ 2014.76 1.8\\ 2014.80 0.9\\
2014.84 2.0\\ 2014.88 1.0\\ 2014.92 1.8\\ 2014.96 0.9\\ 2015.00 2.1\\ 2015.04 1.0\\ 2015.08 2.3\\ 2015.12 0.9\\
2015.16 2.0\\ 2015.20 0.8\\ 2015.24 2.2\\ 2015.28 0.9\\ 2015.32 2.6\\ 2015.36 1.0\\ 2015.40 2.0\\ 2015.44 0.9\\
2015.48 2.3\\ 2015.52 1.0\\ 2015.56 2.1\\ 2015.60 0.8\\ 2015.64 2.4\\ 2015.68 0.9\\ 2015.72 2.2\\ 2015.76 1.0\\
2015.80 2.5\\ 2015.84 0.9\\ 2015.88 2.6\\ 2015.92 1.1\\ 2015.96 3.0\\ 2016.00 3.8\\
};
\addplot table[row sep=\\] {
2017.00 0.5\\ 2017.01 69.3\\ 2017.02 52.0\\ 2017.03 1.5\\ 2017.06 0.8\\ 2017.10 2.0\\ 2017.14 0.9\\ 2017.18 1.8\\
2017.22 0.8\\ 2017.26 1.5\\ 2017.30 0.9\\ 2017.34 2.0\\ 2017.38 1.0\\ 2017.42 1.8\\ 2017.46 0.8\\ 2017.50 2.5\\
2017.54 1.0\\ 2017.58 2.8\\ 2017.62 1.2\\ 2017.66 3.0\\ 2017.69 1.0\\ 2017.72 9.0\\ 2017.74 1.5\\ 2017.78 3.5\\
2017.82 1.2\\ 2017.86 5.0\\ 2017.89 1.0\\ 2017.92 3.0\\ 2017.96 1.2\\ 2018.00 2.5\\
};
\end{axis}

% ---- row 5 right: CO, ASA
\begin{axis}[rpanel, at={(317.9pt,47.1pt)}, ymin=-0.053, ymax=2.764,
  ytick={0,0.5,1,1.5,2,2.5}, yticklabels={0.0,,,1.5,,},
  xlabel={Site = ASA}, ylabel={CO}]
\addplot table[row sep=\\] {
2012.00 1.20\\ 2012.02 0.70\\ 2012.04 0.90\\ 2012.07 0.20\\ 2012.10 0.95\\ 2012.13 0.45\\ 2012.16 1.00\\ 2012.19 0.40\\
2012.22 1.05\\ 2012.25 0.50\\ 2012.27 1.09\\ 2012.30 0.45\\ 2012.33 0.80\\ 2012.36 0.40\\ 2012.39 0.70\\ 2012.42 0.35\\
2012.46 0.75\\ 2012.49 0.45\\ 2012.52 0.90\\ 2012.55 0.40\\ 2012.57 1.00\\ 2012.60 0.50\\ 2012.63 0.85\\ 2012.66 0.45\\
2012.68 1.09\\ 2012.71 0.50\\ 2012.74 1.00\\ 2012.77 0.50\\ 2012.80 0.90\\ 2012.83 0.55\\ 2012.86 0.85\\ 2012.89 0.45\\
2012.92 0.90\\ 2012.95 0.50\\ 2012.98 1.10\\ 2013.01 0.60\\ 2013.04 2.08\\ 2013.06 1.00\\ 2013.09 1.75\\ 2013.12 1.05\\
2013.15 1.60\\ 2013.18 1.10\\ 2013.21 1.65\\ 2013.23 1.00\\ 2013.25 0.30\\ 2013.28 0.80\\ 2013.31 0.45\\ 2013.34 0.75\\
2013.37 0.50\\ 2013.41 0.80\\ 2013.44 0.45\\ 2013.47 1.55\\ 2013.50 0.40\\ 2013.54 0.75\\ 2013.57 0.35\\ 2013.61 0.70\\
2013.64 0.30\\ 2013.68 0.75\\ 2013.71 0.35\\ 2013.75 0.80\\ 2013.78 0.21\\ 2013.82 0.70\\ 2013.85 0.30\\ 2013.87 1.05\\
2013.91 0.35\\ 2013.94 0.90\\ 2013.96 0.10\\ 2014.00 0.85\\ 2014.04 0.40\\ 2014.07 0.75\\ 2014.10 0.02\\ 2014.12 1.40\\
2014.15 0.45\\ 2014.19 0.70\\ 2014.23 0.40\\ 2014.27 0.75\\ 2014.31 0.45\\ 2014.35 0.70\\ 2014.39 0.40\\ 2014.43 0.80\\
2014.47 0.42\\ 2014.51 0.65\\ 2014.55 0.40\\ 2014.59 0.70\\ 2014.63 0.45\\ 2014.67 0.90\\ 2014.70 1.88\\ 2014.72 0.55\\
2014.76 1.00\\ 2014.80 0.55\\ 2014.84 1.00\\ 2014.88 0.60\\ 2014.91 1.69\\ 2014.94 0.60\\ 2014.97 1.50\\ 2015.00 0.65\\
2015.03 1.60\\ 2015.06 0.70\\ 2015.08 2.30\\ 2015.10 0.80\\ 2015.13 1.70\\ 2015.15 0.65\\ 2015.16 2.25\\ 2015.19 0.45\\
2015.22 1.50\\ 2015.25 0.40\\ 2015.28 1.40\\ 2015.31 0.50\\ 2015.34 1.20\\ 2015.37 0.35\\ 2015.41 1.10\\ 2015.44 0.30\\
2015.48 2.30\\ 2015.50 0.85\\ 2015.53 1.75\\ 2015.56 0.90\\ 2015.59 1.65\\ 2015.62 0.80\\ 2015.66 1.60\\ 2015.69 0.60\\
2015.72 1.25\\ 2015.76 0.70\\ 2015.80 1.20\\ 2015.84 0.75\\ 2015.88 1.10\\ 2015.91 0.70\\ 2015.93 1.90\\ 2015.96 0.95\\
2016.00 1.30\\
};
\addplot table[row sep=\\] {
2017.00 0.30\\ 2017.02 1.80\\ 2017.04 0.60\\ 2017.06 1.40\\ 2017.09 0.55\\ 2017.12 1.00\\ 2017.15 0.60\\ 2017.18 1.10\\
2017.21 0.55\\ 2017.25 1.50\\ 2017.28 0.60\\ 2017.31 1.00\\ 2017.34 0.55\\ 2017.37 0.95\\ 2017.40 0.50\\ 2017.43 0.95\\
2017.46 0.40\\ 2017.49 0.90\\ 2017.52 0.40\\ 2017.55 0.90\\ 2017.58 0.35\\ 2017.61 0.85\\ 2017.64 0.30\\ 2017.66 2.68\\
2017.69 0.10\\ 2017.72 0.70\\ 2017.75 1.05\\ 2017.78 0.65\\ 2017.81 1.00\\ 2017.84 0.70\\ 2017.87 1.05\\ 2017.90 0.60\\
2017.93 0.80\\ 2017.96 0.40\\ 2017.99 0.20\\ 2018.00 1.88\\
};
\end{axis}
\end{tikzpicture}
\end{document}
